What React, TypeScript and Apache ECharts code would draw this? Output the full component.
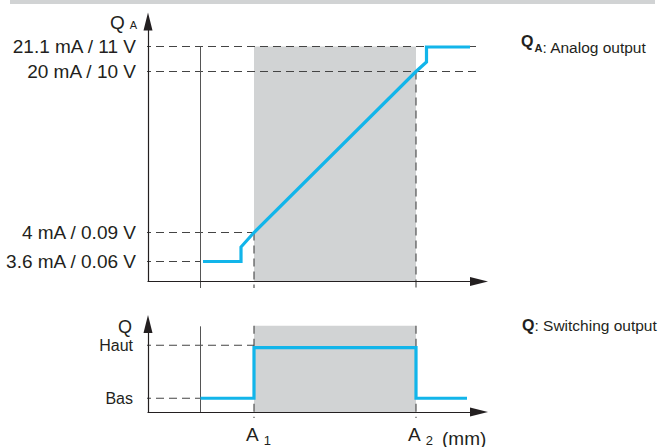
import React, { useEffect, useRef } from "react";
import * as echarts from "echarts";

// ---- data (plot units: x = position along travel, y = display level) ----
const analogLevelPos = [2.0, 4.9, 21.0, 23.5];
const analogLevelText = ["3.6 mA / 0.06 V", "4 mA / 0.09 V", "20 mA / 10 V", "21.1 mA / 11 V"];
const analogLevelEnd = [5.25, 10.6, 33.3, 33.3];

const switchLevelPos = [1.47, 7.13];
const switchLevelText = ["Bas", "Haut"];
const switchLevelEnd = [5.25, 10.6];

const xTickPos = [10.6, 26.8]; // A1, A2
const xTickSub = ["1", "2"];
const refLineX = 5.25;

const analogX = [5.5, 9.3, 9.3, 10.6, 26.8, 27.85, 27.85, 32.2];
const analogY = [2.0, 2.0, 3.45, 4.9, 21.0, 21.95, 23.45, 23.45];

const switchX = [5.25, 10.6, 10.6, 26.8, 26.8, 31.9];
const switchY = [1.47, 1.47, 6.87, 6.87, 1.47, 1.47];

const analogBandTop = 23.5;
const switchBandTop = 9.2;
const refTopAnalog = 23.5;
const refTopSwitch = 9.15;
const belowAxis = -0.65;
const leftOfAxis = -0.5;

const FONT = "'Liberation Sans', Arial, Helvetica, sans-serif";
const TEXT = "#231f20";
const BLUE = "#12b5ea";
const GRAY = "#d1d3d4";
const DASH = { color: "#444", width: 1.1, type: [8, 5] as any };

function zip(xs: number[], ys: number[]) {
  return xs.map((x, i) => [x, ys[i]]);
}

export default function App() {
  const ref = useRef<HTMLDivElement>(null);
  useEffect(() => {
    if (!ref.current) return;
    const chart = echarts.init(ref.current, undefined, { renderer: "svg" });

    const seg = (data: number[][], gi: number, lineStyle: any, z: number) => ({
      type: "line",
      xAxisIndex: gi,
      yAxisIndex: gi,
      data,
      symbol: "none",
      silent: true,
      clip: false,
      lineStyle,
      z,
    });

    const series: any[] = [];
    // gray bands
    series.push({
      type: "line",
      xAxisIndex: 0,
      yAxisIndex: 0,
      data: [],
      silent: true,
      z: 1,
      markArea: {
        silent: true,
        z: 1,
        itemStyle: { color: GRAY },
        data: [[{ coord: [xTickPos[0], 0] }, { coord: [xTickPos[1], analogBandTop] }]],
      },
    });
    series.push({
      type: "line",
      xAxisIndex: 1,
      yAxisIndex: 1,
      data: [],
      silent: true,
      z: 1,
      markArea: {
        silent: true,
        z: 1,
        itemStyle: { color: GRAY },
        data: [[{ coord: [xTickPos[0], 0] }, { coord: [xTickPos[1], switchBandTop] }]],
      },
    });
    // horizontal dashed level lines
    analogLevelPos.forEach((y, i) =>
      series.push(seg([[leftOfAxis, y], [analogLevelEnd[i], y]], 0, DASH, 2))
    );
    switchLevelPos.forEach((y, i) =>
      series.push(seg([[leftOfAxis, y], [switchLevelEnd[i], y]], 1, DASH, 2))
    );
    // vertical dashed lines at A1/A2
    series.push(seg([[xTickPos[0], analogLevelPos[1]], [xTickPos[0], belowAxis]], 0, DASH, 2));
    series.push(seg([[xTickPos[1], analogLevelPos[2]], [xTickPos[1], belowAxis]], 0, DASH, 2));
    series.push(seg([[xTickPos[0], switchBandTop], [xTickPos[0], belowAxis]], 1, DASH, 2));
    series.push(seg([[xTickPos[1], switchBandTop], [xTickPos[1], belowAxis]], 1, DASH, 2));
    // solid reference line
    const solid = { color: "#555", width: 1 };
    series.push(seg([[refLineX, refTopAnalog], [refLineX, belowAxis]], 0, solid, 2));
    series.push(seg([[refLineX, refTopSwitch], [refLineX, 0]], 1, solid, 2));
    // outputs
    series.push(seg(zip(analogX, analogY), 0, { color: BLUE, width: 3.2, join: "miter" }, 5));
    series.push(seg(zip(switchX, switchY), 1, { color: BLUE, width: 3.2, join: "miter" }, 5));

    const axisLine = {
      show: true,
      symbol: ["none", "triangle"],
      symbolSize: [9, 18],
      lineStyle: { color: TEXT, width: 1.2 },
    };

    const nearest = (v: number, arr: number[]) => {
      let bi = 0;
      arr.forEach((a, i) => {
        if (Math.abs(a - v) < Math.abs(arr[bi] - v)) bi = i;
      });
      return bi;
    };

    chart.setOption({
      animation: false,
      textStyle: { fontFamily: FONT },
      grid: [
        { left: 148, top: 21.5, width: 331, height: 260 },
        { left: 148, top: 324, width: 331, height: 94 },
      ],
      xAxis: [
        {
          type: "value",
          gridIndex: 0,
          min: 0,
          max: 33.1,
          z: 3,
          axisLine,
          axisTick: { show: false },
          axisLabel: { show: false },
          splitLine: { show: false },
        },
        {
          type: "value",
          gridIndex: 1,
          min: 0,
          max: 33.1,
          z: 3,
          axisLine,
          axisTick: { show: false },
          splitLine: { show: false },
          axisLabel: {
            show: true,
            customValues: xTickPos,
            margin: 10,
            color: TEXT,
            fontFamily: FONT,
            padding: [0, 0, 0, 9],
            formatter: (v: number) => `{a|A}{s|${xTickSub[nearest(v, xTickPos)]}}`,
            rich: {
              a: { fontSize: 19, color: TEXT, fontFamily: FONT },
              s: { fontSize: 13, color: TEXT, fontFamily: FONT, padding: [12, 0, 0, 5] },
            },
          },
        },
      ],
      yAxis: [
        {
          type: "value",
          gridIndex: 0,
          min: 0,
          max: 26,
          z: 3,
          axisLine,
          axisTick: { show: false },
          splitLine: { show: false },
          axisLabel: {
            show: true,
            customValues: analogLevelPos,
            margin: 12,
            fontSize: 19,
            color: TEXT,
            fontFamily: FONT,
            formatter: (v: number) => analogLevelText[nearest(v, analogLevelPos)],
          },
        },
        {
          type: "value",
          gridIndex: 1,
          min: 0,
          max: 9.4,
          z: 3,
          axisLine,
          axisTick: { show: false },
          splitLine: { show: false },
          axisLabel: {
            show: true,
            customValues: switchLevelPos,
            margin: 15,
            fontSize: 16,
            color: TEXT,
            fontFamily: FONT,
            formatter: (v: number) => switchLevelText[nearest(v, switchLevelPos)],
          },
        },
      ],
      graphic: [
        { type: "rect", shape: { x: 10, y: 0, width: 645, height: 4 }, style: { fill: GRAY }, silent: true },
        {
          type: "text",
          x: 137,
          y: 22,
          style: {
            text: "{q|Q}{s|A}",
            align: "right",
            verticalAlign: "middle",
            rich: {
              q: { fontSize: 19, fill: TEXT, fontFamily: FONT },
              s: { fontSize: 11, fill: TEXT, fontFamily: FONT, padding: [6, 0, 0, 5] },
            },
          },
        },
        {
          type: "text",
          x: 132,
          y: 327,
          style: { text: "Q", align: "right", verticalAlign: "middle", fontSize: 18, fill: TEXT, fontFamily: FONT },
        },
        {
          type: "text",
          x: 442,
          y: 438,
          style: { text: "(mm)", align: "left", verticalAlign: "middle", fontSize: 19, fill: TEXT, fontFamily: FONT },
        },
        {
          type: "text",
          x: 521,
          y: 47,
          style: {
            text: "{b|Q}{bs|A}{t|: Analog output}",
            align: "left",
            verticalAlign: "middle",
            rich: {
              b: { fontSize: 16, fontWeight: "bold", fill: TEXT, fontFamily: FONT, padding: [0, 0, 11, 0] },
              bs: { fontSize: 11, fontWeight: "bold", fill: TEXT, fontFamily: FONT, padding: [2, 0, 0, 1] },
              t: { fontSize: 15.5, fill: TEXT, fontFamily: FONT },
            },
          },
        },
        {
          type: "text",
          x: 522,
          y: 325,
          style: {
            text: "{b|Q}{t|: Switching output}",
            align: "left",
            verticalAlign: "middle",
            rich: {
              b: { fontSize: 16, fontWeight: "bold", fill: TEXT, fontFamily: FONT },
              t: { fontSize: 15.5, fill: TEXT, fontFamily: FONT },
            },
          },
        },
      ],
      series,
    });
    return () => chart.dispose();
  }, []);
  return <div ref={ref} style={{ position: "absolute", left: 0, top: 0, width: 659, height: 447 }} />;
}
